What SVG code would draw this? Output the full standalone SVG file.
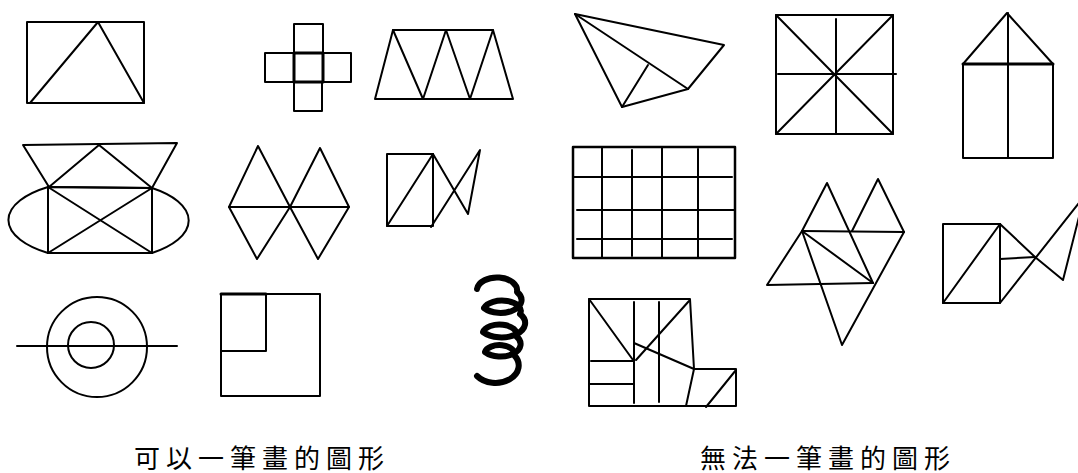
<svg xmlns="http://www.w3.org/2000/svg" width="1078" height="473" viewBox="0 0 1078 473">
<style>
.s{fill:none;stroke:#000;stroke-width:2;stroke-linejoin:round;stroke-linecap:round}
.t{stroke-width:3}
.lbl{font-family:"Noto Sans CJK TC","Noto Sans CJK SC",serif;font-size:26px;letter-spacing:6px;fill:#000}
</style>
<rect width="1078" height="473" fill="#fff"/>
<g id="rect-triangle" class="s">
<rect x="27" y="22" width="117" height="81"/>
<polyline points="30,103 98,22 144,103"/>
</g>
<g id="cross" class="s">
<rect x="294" y="24" width="29" height="29"/>
<rect x="265" y="53" width="29" height="29"/>
<rect x="323" y="53" width="28" height="29"/>
<rect x="294" y="82" width="28" height="29"/>
<rect x="294" y="53" width="29" height="29" class="t"/>
</g>
<g id="trapezoid" class="s">
<polygon points="375,99 393,30 493,30 513,99"/>
<polyline points="393,30 423,99 446,30 470,99 493,30"/>
</g>
<g id="kite" class="s">
<polygon points="575,14 724,45 688,89 622,107"/>
<line x1="575" y1="14" x2="688" y2="89"/>
<line x1="648" y1="65" x2="622" y2="107"/>
</g>
<g id="square-star" class="s">
<rect x="776" y="15" width="117" height="119"/>
<line x1="776" y1="15" x2="893" y2="134"/>
<line x1="893" y1="15" x2="776" y2="134"/>
<line x1="836" y1="19" x2="836" y2="134"/>
<line x1="778" y1="74" x2="896" y2="74"/>
</g>
<g id="house" class="s">
<polyline points="963,64 1007,13 1053,64"/>
<rect x="963" y="64" width="90" height="94"/>
<line x1="1008" y1="13" x2="1008" y2="158"/>
<line x1="963" y1="64" x2="1053" y2="64" class="t"/>
</g>
<g id="ellipse-figure" class="s">
<polygon points="23,145 177,143 152,188 49,187"/>
<polyline points="49,187 99,145 152,188"/>
<polygon points="48,187 152,188 152,253 48,253"/>
<line x1="48" y1="187" x2="152" y2="253"/>
<line x1="152" y1="188" x2="48" y2="253"/>
<path d="M48,187 A91,40 0 0 0 48,253"/>
<path d="M152,188 A88,40 0 0 1 152,253"/>
</g>
<g id="diamonds" class="s">
<polygon points="258,146 229,207 257,259 290,207"/>
<polygon points="320,148 290,207 318,259 349,207"/>
<line x1="229" y1="207" x2="349" y2="207"/>
</g>
<g id="fish-small" class="s">
<rect x="387" y="154" width="46" height="72"/>
<line x1="387" y1="226" x2="433" y2="154"/>
<polyline points="433,154 468,214 480,150 431,227"/>
</g>
<g id="grid" class="s">
<rect x="573" y="147" width="162" height="111" stroke-width="2.5"/>
<line x1="602" y1="147" x2="602" y2="258"/>
<line x1="632" y1="150" x2="632" y2="256"/>
<line x1="662" y1="147" x2="662" y2="258"/>
<line x1="698" y1="149" x2="698" y2="258"/>
<line x1="573" y1="177" x2="732" y2="177"/>
<line x1="577" y1="210" x2="735" y2="210"/>
<line x1="577" y1="239" x2="732" y2="239"/>
</g>
<g id="triangles" class="s">
<polyline points="802,231 827,183 873,283"/>
<polyline points="852,231 878,179 904,232"/>
<line x1="802" y1="231" x2="904" y2="232"/>
<line x1="802" y1="231" x2="873" y2="283"/>
<polyline points="802,231 767,285 873,283"/>
<polyline points="904,232 842,345 802,231"/>
</g>
<g id="fish-large" class="s">
<rect x="943" y="224" width="57" height="79"/>
<line x1="943" y1="303" x2="1000" y2="224"/>
<line x1="1000" y1="259" x2="1035" y2="257"/>
<polyline points="1000,224 1035,257 1063,280 1082,205"/>
<line x1="1000" y1="303" x2="1082" y2="199"/>
</g>
<g id="circles" class="s">
<circle cx="97" cy="347" r="50"/>
<circle cx="91" cy="345" r="23"/>
<line x1="17" y1="346" x2="177" y2="346"/>
</g>
<g id="nested-squares" class="s">
<rect x="221" y="294" width="99" height="102"/>
<rect x="221" y="294" width="45" height="57"/>
<line x1="221" y1="294" x2="266" y2="294" class="t"/>
</g>
<g id="spiral">
<path d="M477,289 A20,13 0 0 1 517,292 A18,11 0 0 1 484,308 A18,10 0 0 1 520,314 A18,11 0 0 1 483,332 A16,9 0 0 1 516,336 A16,10 0 0 1 485,352 A14,8 0 0 1 514,355 A16,12 0 0 1 477,376" fill="none" stroke="#000" stroke-width="6" stroke-linecap="round" stroke-linejoin="round"/>
</g>
<g id="l-shape" class="s">
<polygon points="589,299 690,299 694,369 736,369 736,406 589,406"/>
<line x1="589" y1="299" x2="633" y2="360"/>
<line x1="591" y1="361" x2="633" y2="361"/>
<line x1="589" y1="384" x2="633" y2="384"/>
<line x1="634" y1="302" x2="634" y2="403"/>
<line x1="659" y1="302" x2="659" y2="402"/>
<line x1="689" y1="301" x2="636" y2="360"/>
<line x1="634" y1="343" x2="694" y2="369"/>
<line x1="694" y1="369" x2="686" y2="406"/>
<line x1="706" y1="407" x2="736" y2="370"/>
</g>
<g id="labels">
<text class="lbl" x="134" y="468">可以一筆畫的圖形</text>
<text class="lbl" x="700" y="468">無法一筆畫的圖形</text>
</g>
</svg>
